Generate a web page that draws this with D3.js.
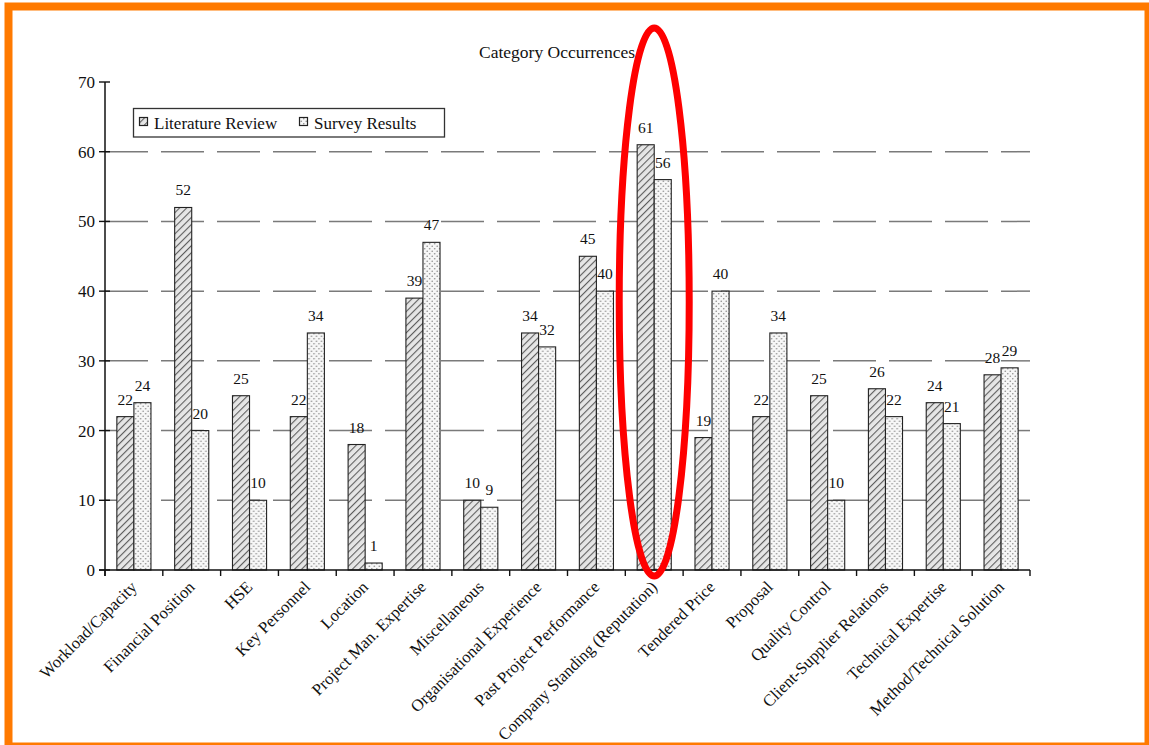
<!DOCTYPE html>
<html>
<head>
<meta charset="utf-8">
<script src="https://cdn.jsdelivr.net/npm/d3@7"></script>
<style>
  html, body { margin: 0; padding: 0; background: #fff; }
  svg { display: block; }
  text { font-family: "Liberation Serif", "Times New Roman", serif; fill: #111; }
</style>
</head>
<body>
<svg id="chart" width="1149" height="745"></svg>
<script>
const categories = [
  "Workload/Capacity", "Financial Position", "HSE", "Key Personnel", "Location",
  "Project Man. Expertise", "Miscellaneous", "Organisational Experience",
  "Past Project Performance", "Company Standing (Reputation)", "Tendered Price",
  "Proposal", "Quality Control", "Client-Supplier Relations", "Technical Expertise",
  "Method/Technical Solution"
];
const literatureReview = [22, 52, 25, 22, 18, 39, 10, 34, 45, 61, 19, 22, 25, 26, 24, 28];
const surveyResults    = [24, 20, 10, 34, 1, 47, 9, 32, 40, 56, 40, 34, 10, 22, 21, 29];
const seriesNames = ["Literature Review", "Survey Results"];
const yTicks = [0, 10, 20, 30, 40, 50, 60, 70];
const gridValues = [10, 20, 30, 40, 50, 60];
const highlighted = "Company Standing (Reputation)";

const svg = d3.select("#chart");
const W = 1149, H = 745;
const m = { left: 105, right: 119, top: 82, bottom: 175 };
const plotW = W - m.left - m.right;
const plotH = H - m.top - m.bottom;

// Fill patterns: diagonal hatch and dot grid
const defs = svg.append("defs");
const hatch = defs.append("pattern")
  .attr("id", "hatch").attr("patternUnits", "userSpaceOnUse")
  .attr("width", 5).attr("height", 5)
  .attr("patternTransform", "rotate(45)");
hatch.append("rect").attr("width", 5).attr("height", 5).attr("fill", "#e6e6e6");
hatch.append("line").attr("x1", 0).attr("y1", 0).attr("x2", 0).attr("y2", 5)
  .attr("stroke", "#5e5e5e").attr("stroke-width", 2.2);

const dots = defs.append("pattern")
  .attr("id", "dots").attr("patternUnits", "userSpaceOnUse")
  .attr("width", 5).attr("height", 5);
dots.append("rect").attr("width", 5).attr("height", 5).attr("fill", "#f7f7f7");
dots.append("circle").attr("cx", 1.25).attr("cy", 1.25).attr("r", 0.8).attr("fill", "#8c8c8c");
dots.append("circle").attr("cx", 3.75).attr("cy", 3.75).attr("r", 0.8).attr("fill", "#8c8c8c");

const fills = ["url(#hatch)", "url(#dots)"];

const x = d3.scaleBand().domain(categories)
  .range([m.left, m.left + plotW]).paddingInner(0.41).paddingOuter(0.205);
const xs = d3.scaleBand().domain(seriesNames).range([0, x.bandwidth()]);
const y = d3.scaleLinear().domain([0, 70]).range([m.top + plotH, m.top]);

// Dashed gridlines
svg.append("g").selectAll("line").data(gridValues).join("line")
  .attr("x1", m.left).attr("x2", m.left + plotW)
  .attr("y1", d => y(d)).attr("y2", d => y(d))
  .attr("stroke", "#7a7a7a").attr("stroke-width", 1.5)
  .attr("stroke-dasharray", "43 13");

// Bars
const rows = categories.map((c, i) => ({ c, vals: [literatureReview[i], surveyResults[i]] }));
const groups = svg.append("g").selectAll("g").data(rows).join("g")
  .attr("transform", d => `translate(${x(d.c)},0)`);
groups.selectAll("rect").data(d => d.vals.map((v, k) => ({ v, k }))).join("rect")
  .attr("x", d => xs(seriesNames[d.k]))
  .attr("y", d => y(d.v))
  .attr("width", xs.bandwidth())
  .attr("height", d => y(0) - y(d.v))
  .attr("fill", d => fills[d.k])
  .attr("stroke", "#222").attr("stroke-width", 1.1);
groups.selectAll("text").data(d => d.vals.map((v, k) => ({ v, k }))).join("text")
  .attr("x", d => xs(seriesNames[d.k]) + xs.bandwidth() / 2)
  .attr("y", d => y(d.v) - 12)
  .attr("text-anchor", "middle")
  .attr("font-size", 15.5)
  .text(d => d.v);

// Y axis
const yAxis = d3.axisLeft(y).tickValues(yTicks).tickSize(0).tickPadding(10);
const gy = svg.append("g").attr("transform", `translate(${m.left},0)`).call(yAxis);
gy.select(".domain").remove();
gy.selectAll("text").attr("font-size", 17).style("font-family", "Liberation Serif, serif").attr("fill", "#111");
svg.append("g").selectAll("line").data(yTicks).join("line")
  .attr("x1", m.left - 6).attr("x2", m.left + 5)
  .attr("y1", d => y(d)).attr("y2", d => y(d))
  .attr("stroke", "#111").attr("stroke-width", 1.4);
svg.append("line")
  .attr("x1", m.left).attr("x2", m.left)
  .attr("y1", y(70)).attr("y2", y(0) + 6)
  .attr("stroke", "#111").attr("stroke-width", 1.5);

// X axis with ticks at category boundaries
svg.append("line")
  .attr("x1", m.left - 6).attr("x2", m.left + plotW)
  .attr("y1", y(0)).attr("y2", y(0))
  .attr("stroke", "#111").attr("stroke-width", 1.5);
const boundaries = categories.map(c => x(c) - x.step() * x.paddingInner() / 2)
  .concat([m.left + plotW]);
svg.append("g").selectAll("line").data(boundaries).join("line")
  .attr("x1", d => d).attr("x2", d => d)
  .attr("y1", y(0)).attr("y2", y(0) + 6)
  .attr("stroke", "#111").attr("stroke-width", 1.4);

svg.append("g").selectAll("text").data(categories).join("text")
  .attr("transform", c => `translate(${x(c) + x.bandwidth() / 2 + 4},${y(0) + 18}) rotate(-45)`)
  .attr("text-anchor", "end")
  .attr("font-size", 16.7)
  .text(c => c);

// Title
svg.append("text")
  .attr("x", 557).attr("y", 58)
  .attr("text-anchor", "middle")
  .attr("font-size", 17.5)
  .text("Category Occurrences");

// Legend
const lg = svg.append("g");
lg.append("rect").attr("x", 133.5).attr("y", 108.5).attr("width", 311).attr("height", 28.5)
  .attr("fill", "#fff").attr("stroke", "#333").attr("stroke-width", 1.3);
const legendX = [139, 299];
seriesNames.forEach((s, k) => {
  lg.append("rect").attr("x", legendX[k] + 0.5).attr("y", 117.5).attr("width", 8).attr("height", 8)
    .attr("fill", fills[k]).attr("stroke", "#222").attr("stroke-width", 1.2);
  lg.append("text").attr("x", legendX[k] + 15).attr("y", 128.5)
    .attr("font-size", 17).text(s);
});

// Highlight ring around one category
const cx = x(highlighted) + x.bandwidth() / 2;
svg.append("ellipse")
  .attr("cx", cx).attr("cy", 302)
  .attr("rx", 35).attr("ry", 274)
  .attr("fill", "none").attr("stroke", "#ff0000").attr("stroke-width", 7);

// Outer frame
svg.append("rect")
  .attr("x", 8.5).attr("y", 6.5).attr("width", 1140).attr("height", 740)
  .attr("fill", "none").attr("stroke", "#ff7a00").attr("stroke-width", 8);
</script>
</body>
</html>
